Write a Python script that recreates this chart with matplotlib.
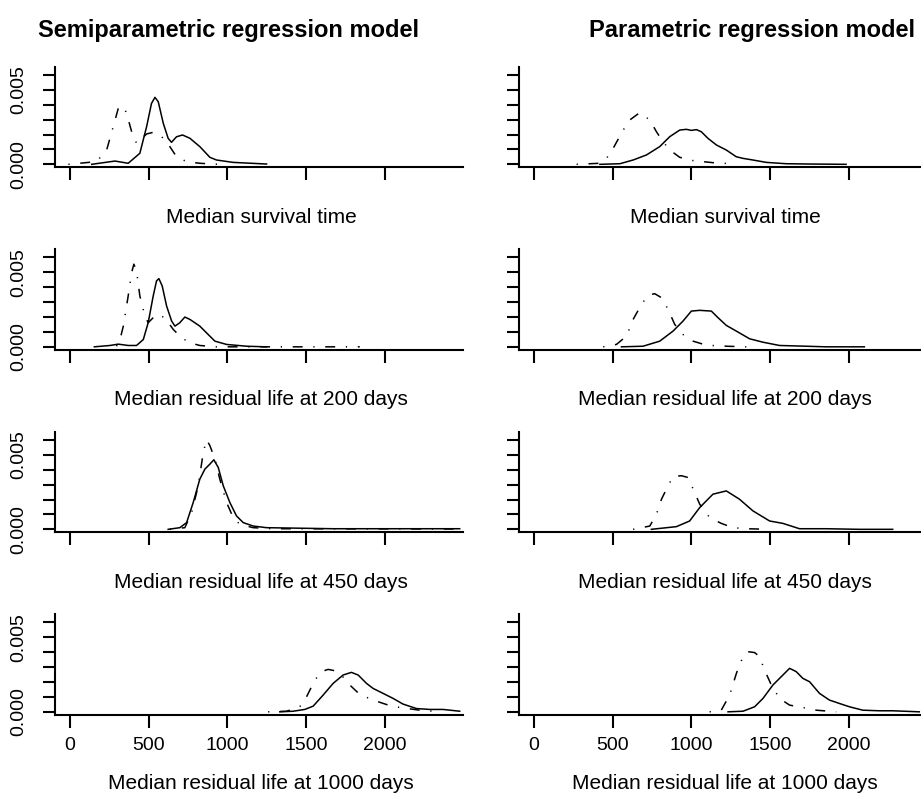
import matplotlib.pyplot as plt
import numpy as np

plt.rcParams['font.family'] = ['Liberation Sans', 'DejaVu Sans']

# ---- data (x in days, y = density) ----
# row 1: median survival time
semi_surv_solid_x = [138, 286, 370, 444, 487, 518, 540, 561, 593, 624, 645, 677, 715, 762, 825, 889, 931, 1037, 1249]
semi_surv_solid_y = [0, 0.00022, 0.00007, 0.00074, 0.00253, 0.00409, 0.0045, 0.0042, 0.00275, 0.00174, 0.00148, 0.00185, 0.00197, 0.00175, 0.00119, 0.00047, 0.00029, 0.00013, 0.00002]
semi_surv_dash_x = [-10, 169, 233, 275, 307, 339, 360, 392, 423, 487, 529, 571, 614, 677, 741, 825, 942]
semi_surv_dash_y = [0, 0.00018, 0.00096, 0.00253, 0.00376, 0.00391, 0.00342, 0.00219, 0.00141, 0.00204, 0.00215, 0.00197, 0.00152, 0.00051, 0.00018, 0.00007, 0]
par_surv_solid_x = [419, 546, 630, 715, 799, 863, 926, 968, 1000, 1032, 1063, 1106, 1159, 1222, 1285, 1328, 1391, 1476, 1603, 1751, 1983]
par_surv_solid_y = [0, 0.00004, 0.00029, 0.00063, 0.00119, 0.00186, 0.0023, 0.00235, 0.00228, 0.00233, 0.00219, 0.00174, 0.0013, 0.00096, 0.00051, 0.0004, 0.00029, 0.00013, 0.00004, 0.00002, 0]
par_surv_dash_x = [271, 419, 461, 503, 567, 609, 672, 736, 778, 820, 863, 926, 1011, 1137, 1285]
par_surv_dash_y = [0, 0.00007, 0.0004, 0.00107, 0.0023, 0.00298, 0.00347, 0.00298, 0.00219, 0.00152, 0.00096, 0.00047, 0.00025, 0.00011, 0.00002]

# row 2: median residual life at 200 days
semi_r200_solid_x = [155, 254, 307, 370, 423, 466, 497, 529, 550, 565, 586, 614, 646, 667, 698, 730, 762, 825, 878, 921, 995, 1122, 1249]
semi_r200_solid_y = [0, 0.00009, 0.00018, 0.00009, 0.00009, 0.00049, 0.00162, 0.00342, 0.00443, 0.00458, 0.00409, 0.00274, 0.00173, 0.00139, 0.00162, 0.002, 0.00184, 0.00139, 0.00083, 0.00038, 0.00016, 0.00004, 0]
semi_r200_dash_x = [296, 318, 339, 370, 392, 406, 423, 444, 476, 497, 550, 603, 656, 709, 762, 825, 931, 1249, 1841]
semi_r200_dash_y = [0.00004, 0.00049, 0.00139, 0.00342, 0.00499, 0.00555, 0.0051, 0.00342, 0.00207, 0.00162, 0.00218, 0.00196, 0.00117, 0.00061, 0.00027, 0.00009, 0, 0, 0]
par_r200_solid_x = [556, 693, 799, 884, 947, 1000, 1053, 1127, 1169, 1222, 1285, 1370, 1455, 1560, 1729, 1856, 2099]
par_r200_solid_y = [0, 0.00004, 0.00038, 0.00106, 0.00173, 0.0024, 0.00245, 0.0024, 0.00196, 0.00144, 0.00106, 0.00054, 0.00031, 0.00009, 0.00004, 0, 0]
par_r200_dash_x = [440, 524, 588, 630, 683, 725, 767, 810, 852, 894, 947, 1011, 1095, 1222, 1349]
par_r200_dash_y = [0, 0.00016, 0.00072, 0.00184, 0.00285, 0.00346, 0.00357, 0.0033, 0.00252, 0.00151, 0.00083, 0.00038, 0.00011, 0.00004, 0]

# row 3: median residual life at 450 days
semi_r450_solid_x = [624, 698, 741, 783, 825, 857, 889, 914, 942, 974, 1016, 1058, 1101, 1164, 1249, 1672, 2476]
semi_r450_solid_y = [0, 0.00011, 0.00045, 0.0018, 0.00337, 0.00404, 0.00438, 0.00467, 0.00416, 0.00292, 0.0018, 0.0009, 0.00045, 0.00022, 0.00011, 0.00004, 0.00004]
semi_r450_dash_x = [635, 730, 773, 815, 847, 868, 889, 921, 952, 995, 1037, 1079, 1164, 1291, 2476]
semi_r450_dash_y = [0, 0.00011, 0.00112, 0.00292, 0.00517, 0.00602, 0.00562, 0.00472, 0.00337, 0.0018, 0.00079, 0.00034, 0.00011, 0.00004, 0.00002]
par_r450_solid_x = [746, 905, 989, 1053, 1137, 1222, 1306, 1391, 1497, 1581, 1687, 1856, 2068, 2279]
par_r450_solid_y = [0, 0.00018, 0.00056, 0.00146, 0.00236, 0.00258, 0.00202, 0.00124, 0.00056, 0.0004, 0.00004, 0.00004, 0, 0]
par_r450_dash_x = [630, 736, 778, 810, 852, 884, 937, 979, 1021, 1053, 1116, 1190, 1264, 1353, 1497]
par_r450_dash_y = [0, 0.00022, 0.00101, 0.00202, 0.00292, 0.00355, 0.0036, 0.00348, 0.00247, 0.00169, 0.00079, 0.0004, 0.00011, 0.00004, 0]

# row 4: median residual life at 1000 days
semi_r1000_solid_x = [1333, 1418, 1492, 1545, 1608, 1672, 1735, 1788, 1831, 1884, 1926, 1989, 2053, 2116, 2201, 2286, 2370, 2476]
semi_r1000_solid_y = [0, 0.00004, 0.00016, 0.00038, 0.00112, 0.00191, 0.00247, 0.00265, 0.00247, 0.00191, 0.00157, 0.00124, 0.0009, 0.00052, 0.00022, 0.00016, 0.00016, 0.00004]
semi_r1000_dash_x = [1259, 1376, 1460, 1503, 1556, 1598, 1640, 1683, 1725, 1767, 1841, 1926, 2011, 2095, 2222, 2307]
semi_r1000_dash_y = [0, 0.00004, 0.00034, 0.00101, 0.00213, 0.0027, 0.00285, 0.00276, 0.00247, 0.00191, 0.00117, 0.00079, 0.00049, 0.00029, 0.00011, 0.00004]
par_r1000_solid_x = [1233, 1328, 1402, 1455, 1518, 1571, 1624, 1666, 1708, 1751, 1814, 1877, 1941, 2004, 2089, 2195, 2279, 2448]
par_r1000_solid_y = [0, 0.00004, 0.00034, 0.0009, 0.0018, 0.00236, 0.00292, 0.0027, 0.00225, 0.00202, 0.00124, 0.00079, 0.00056, 0.00034, 0.00011, 0.00007, 0.00007, 0]
par_r1000_dash_x = [1116, 1190, 1243, 1286, 1328, 1360, 1402, 1433, 1465, 1508, 1560, 1624, 1708, 1793, 1920]
par_r1000_dash_y = [0, 0.00011, 0.00112, 0.00258, 0.00371, 0.00404, 0.00398, 0.00371, 0.00281, 0.0018, 0.0009, 0.00045, 0.00029, 0.00011, 0]

row_labels = ['Median survival time', 'Median residual life at 200 days',
              'Median residual life at 450 days', 'Median residual life at 1000 days']
col_titles = ['Semiparametric regression model', 'Parametric regression model']

curves = [
    [(semi_surv_solid_x, semi_surv_solid_y, semi_surv_dash_x, semi_surv_dash_y),
     (par_surv_solid_x, par_surv_solid_y, par_surv_dash_x, par_surv_dash_y)],
    [(semi_r200_solid_x, semi_r200_solid_y, semi_r200_dash_x, semi_r200_dash_y),
     (par_r200_solid_x, par_r200_solid_y, par_r200_dash_x, par_r200_dash_y)],
    [(semi_r450_solid_x, semi_r450_solid_y, semi_r450_dash_x, semi_r450_dash_y),
     (par_r450_solid_x, par_r450_solid_y, par_r450_dash_x, par_r450_dash_y)],
    [(semi_r1000_solid_x, semi_r1000_solid_y, semi_r1000_dash_x, semi_r1000_dash_y),
     (par_r1000_solid_x, par_r1000_solid_y, par_r1000_dash_x, par_r1000_dash_y)],
]

W, H = 921, 800
fig = plt.figure(figsize=(W / 100, H / 100), dpi=100)

# layout in pixels (R-like fixed margins)
col_left = [55, 519]
ax_w = 408
row_bottom = [167.3, 349.8, 532.3, 714.8]
ax_h = 100.5
dotdash = (0, (0.8, 7, 6.5, 7))

for r in range(4):
    for c in range(2):
        ax = fig.add_axes([col_left[c] / W, 1 - row_bottom[r] / H, ax_w / W, ax_h / H])
        sx, sy, dx, dy = curves[r][c]
        ax.plot(sx, sy, color='black', lw=1.1, solid_joinstyle='round')
        ax.plot(dx, dy, color='black', lw=1.1, linestyle=dotdash)
        ax.set_xlim(-95, 2497)
        ax.set_ylim(-0.0002, 0.00655)
        for s in ['top', 'right']:
            ax.spines[s].set_visible(False)
        for s in ['left', 'bottom']:
            ax.spines[s].set_linewidth(1.5)
        ax.set_xticks([0, 500, 1000, 1500, 2000])
        ax.set_yticks([0, 0.001, 0.002, 0.003, 0.004, 0.005, 0.006])
        ax.tick_params(axis='both', direction='out', length=9, width=1.5, labelsize=14)
        ax.tick_params(axis='x', pad=7)
        if c == 0:
            ax.set_yticklabels(['0.000', '', '', '', '', '0.005', ''])
            ax.tick_params(axis='y', labelrotation=90, pad=11)
            for t in ax.get_yticklabels():
                t.set_va('center')
        else:
            ax.set_yticklabels([])
        if r < 3:
            ax.tick_params(labelbottom=False)
            ypos = -50 / ax_h
        else:
            ypos = -69 / ax_h
        ax.text(0.505, ypos, row_labels[r], transform=ax.transAxes,
                ha='center', va='center', fontsize=15)

fig.text(228 / W, 1 - 30 / H, col_titles[0], ha='center', va='center',
         fontsize=17, fontweight='bold')
fig.text(752 / W, 1 - 30 / H, col_titles[1], ha='center', va='center',
         fontsize=17, fontweight='bold')

fig.savefig('out.png', dpi=100)
